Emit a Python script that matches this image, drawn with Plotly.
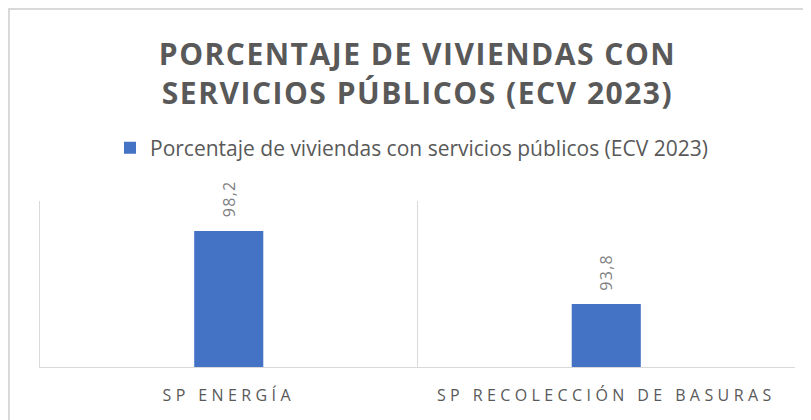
import plotly.graph_objects as go

categories = ["SP ENERGÍA", "SP RECOLECCIÓN DE BASURAS"]
values = [98.2, 93.8]
series_name = "Porcentaje de viviendas con servicios públicos (ECV 2023)"
title_text = "PORCENTAJE DE VIVIENDAS CON<br>SERVICIOS PÚBLICOS (ECV 2023)"

# page body has an 8px margin -> figure drawn at (8, 8)
W, H = 803, 412
ML, MR, MT, MB = 32, 16, 193, 53
PW, PH = W - ML - MR, H - MT - MB

fig = go.Figure()
fig.add_trace(go.Bar(
    x=categories, y=values, name=series_name,
    marker=dict(color="#4472C4", line=dict(width=0)),
    width=0.183,
    showlegend=True, cliponaxis=False,
))

annotations = [
    dict(x=c, y=v, xref="x", yref="y", text=f"{v:.1f}".replace(".", ","),
         showarrow=False, textangle=-90, xanchor="center", yanchor="bottom",
         yshift=14, font=dict(family="Open Sans", size=16, color="#7f7f7f"))
    for c, v in zip(categories, values)
]

fig.update_layout(
    width=W, height=H,
    margin=dict(l=ML, r=MR, t=MT, b=MB, pad=0),
    paper_bgcolor="white", plot_bgcolor="white",
    separators=",.",
    font=dict(family="Open Sans", color="#595959"),
    title=dict(text=title_text, x=0.5, xref="paper", xanchor="center",
               y=1 - 57 / H, yref="container", yanchor="middle",
               font=dict(family="Open Sans", size=30, color="#595959", weight="bold")),
    showlegend=True,
    legend=dict(orientation="h", x=(102 - ML) / PW, xanchor="left", xref="paper",
                y=1 + (MT - 140) / PH, yanchor="middle",
                font=dict(family="Open Sans", size=21, color="#595959")),
    xaxis=dict(type="category", tickson="boundaries", showgrid=True,
               gridcolor="#d9d9d9", gridwidth=1, showline=True, linecolor="#d9d9d9",
               linewidth=1, ticks="", ticklabelstandoff=14,
               tickfont=dict(family="Open Sans", size=16, color="#595959"),
               zeroline=False),
    yaxis=dict(range=[90, 100], showgrid=False, zeroline=False, showticklabels=False,
               ticks="", showline=True, linecolor="#d9d9d9", linewidth=1),
    annotations=annotations,
    shapes=[dict(type="rect", xref="paper", yref="paper",
                 x0=(1 - ML) / PW, x1=1.2, y0=-1, y1=1 + (MT - 1) / PH,
                 line=dict(color="#d9d9d9", width=2), fillcolor="rgba(0,0,0,0)",
                 layer="below")],
)

post = """
function ls(sel, v){document.querySelectorAll(sel).forEach(function(t){t.style.letterSpacing=v;});}
ls('.gtitle', '1.5px');
ls('.xtick text', '4.4px');
ls('.annotation-text', '1.3px');
"""

fig.write_html("out.html", post_script=post)
